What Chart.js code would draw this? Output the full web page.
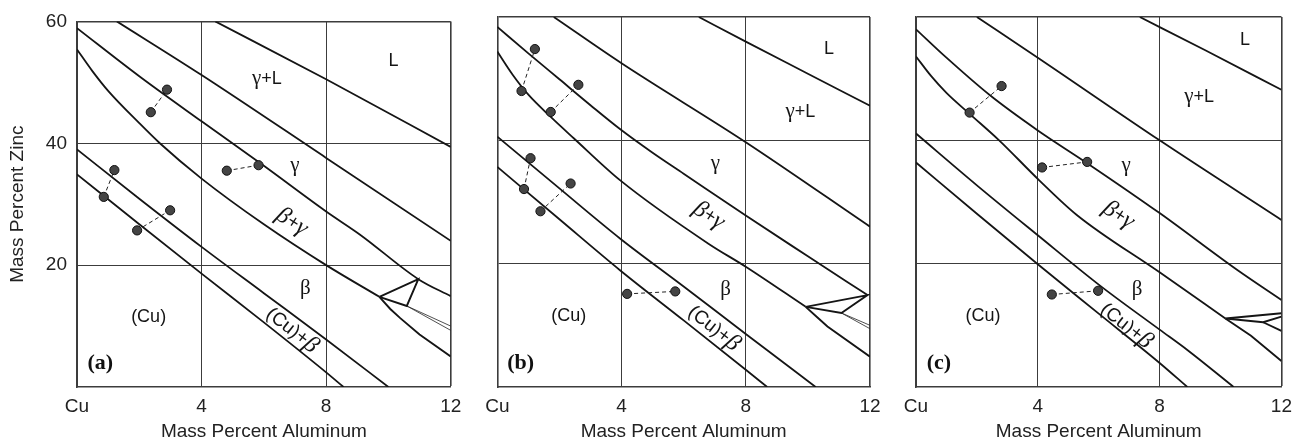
<!DOCTYPE html>
<html>
<head>
<meta charset="utf-8">
<script src="https://cdn.jsdelivr.net/npm/chart.js@4.4.1/dist/chart.umd.min.js"></script>
<style>
  html, body { margin: 0; padding: 0; background: #fff; }
  body { width: 1300px; height: 440px; position: relative; overflow: hidden; }
  canvas { position: absolute; top: 0; }
</style>
</head>
<body>
<canvas id="panelA"></canvas>
<canvas id="panelB"></canvas>
<canvas id="panelC"></canvas>
<script>
// axis ticks (shared by the three sections)
const xTicks = [0, 4, 8, 12];
const xTickLabels = ['Cu', '4', '8', '12'];
const yTicks = [20, 40, 60];
const yTickLabels = ['20', '40', '60'];

const regionNames = ['L', 'γ+L', 'γ', 'β+γ', 'β', '(Cu)', '(Cu)+β'];

// ---- section (a) ----  [wt% Al, wt% Zn]
const liquidusA = [[4.44, 60], [8, 50.5], [12, 39.4]];
const gammaLA = [[1.28, 60], [4, 51.2], [8, 37.6], [12, 24.0]];
const gammaA = [[0, 58.9], [2, 51.0], [4, 43.6], [6, 36.3], [8, 28.8], [9.09, 25.0], [10.96, 17.7], [12, 14.9]];
const betaGammaA = [[0, 55.4], [0.5, 51.8], [1, 48.6], [2, 43.3], [2.66, 40.0], [4, 34.2], [6, 26.7], [8, 20.0], [9.71, 14.8]];
const betaEdgeA = [[9.71, 14.8], [10.06, 12.8], [10.38, 11.3], [11, 8.6], [12, 5.0]];
const betaCuA = [[0, 39.0], [2, 30.9], [4, 23.0], [6, 15.4], [8, 7.8], [10.0, 0]];
const cuA = [[0, 34.9], [2, 26.7], [4, 18.6], [6, 10.6], [8, 2.4], [8.56, 0]];
const triA = [[[9.71, 14.8], [10.96, 17.7], [10.59, 13.3], [9.71, 14.8]]];
const thinA = [[[10.59, 13.3], [12, 10.0]], [[10.59, 13.3], [12, 9.3]]];
const tiesA = [
  [[2.37, 45.1], [2.89, 48.8]],
  [[4.81, 35.5], [5.83, 36.4]],
  [[0.86, 31.2], [1.2, 35.6]],
  [[1.93, 25.7], [2.99, 29.0]]
];
const labelSpotsA = [[10.16, 53.5], [6.1, 50.6], [7.0, 36.3], [6.9, 27.1], [7.33, 16.1], [2.3, 11.5], [6.9, 9.3]];

// ---- section (b) ----
const liquidusB = [[6.49, 60], [8, 56.0], [10, 50.8], [12, 45.6]];
const gammaLB = [[1.82, 60], [4, 52.5], [8, 39.7], [12, 26.0]];
const gammaB = [[0, 58.4], [1, 54.1], [2, 49.9], [3, 45.7], [3.96, 41.8], [5, 38.0], [6, 34.6], [8, 27.8], [10, 21.2], [11.92, 14.9]];
const betaGammaB = [[0, 54.4], [0.5, 50.6], [1, 47.4], [1.72, 43.8], [2.47, 40.3], [3.96, 33.5], [6.81, 23.2], [8, 19.5], [9.93, 13.0]];
const betaEdgeB = [[9.93, 13.0], [10.3, 11.3], [10.63, 9.8], [12, 4.9]];
const betaCuB = [[0, 40.6], [2, 32.2], [3.96, 24.05], [6, 16.3], [8, 8.6], [10.25, 0]];
const cuB = [[0, 35.7], [2, 27.2], [3.96, 18.9], [6, 10.8], [8, 2.8], [8.69, 0]];
const triB = [[[9.93, 13.0], [11.92, 14.9], [11.08, 12.0], [9.93, 13.0]]];
const thinB = [[[11.08, 12.0], [12, 10.0]], [[11.08, 12.0], [12, 9.45]]];
const tiesB = [
  [[0.78, 48.0], [1.21, 54.8]],
  [[1.72, 44.6], [2.61, 49.0]],
  [[0.86, 32.1], [1.07, 37.1]],
  [[1.39, 28.5], [2.36, 33.0]],
  [[4.18, 15.1], [5.73, 15.5]]
];
const labelSpotsB = [[10.68, 54.8], [9.76, 44.6], [7.02, 36.2], [6.81, 27.8], [7.35, 15.8], [2.3, 11.5], [6.97, 9.5]];

// ---- section (c) ----
const liquidusC = [[7.35, 60], [9.5, 54.6], [12, 48.2]];
const gammaLC = [[2.0, 60], [4, 53.4], [8, 40.0], [12, 27.1]];
const gammaC = [[0, 58.0], [1, 53.4], [2.43, 47.3], [4, 41.6], [5.62, 36.3], [8, 28.2], [10.54, 19.0], [12, 14.1]];
const betaGammaC = [[0, 53.6], [0.5, 50.4], [1, 47.7], [1.76, 44.3], [2.73, 40.0], [4.03, 33.6], [5.28, 27.9], [8, 18.6], [10.16, 11.1]];
const betaEdgeC = [[10.16, 11.1], [11, 8.3], [12, 4.2]];
const betaCuC = [[0, 41.1], [2, 32.7], [4, 24.6], [6, 16.6], [8, 9.3], [8.91, 6.0], [10.43, 0]];
const cuC = [[0, 36.4], [2, 28.1], [4, 19.9], [6, 11.9], [8, 3.9], [8.91, 0]];
const triC = [[[12, 11.95], [10.16, 11.1], [11.4, 10.5], [12, 11.4]], [[11.4, 10.5], [12, 9.1]]];
const thinC = [];
const tiesC = [
  [[1.76, 44.5], [2.81, 48.8]],
  [[4.14, 35.6], [5.62, 36.5]],
  [[4.46, 15.0], [5.98, 15.6]]
];
const labelSpotsC = [[10.8, 56.2], [9.3, 47.1], [6.9, 36.0], [6.65, 27.9], [7.26, 15.8], [2.2, 11.5], [6.9, 9.9]];

const tagSpot = [0.75, 3.9];
const labelAngles = [0, 0, 0, 33, 0, 0, 38];

const SANS = '"Liberation Sans", Arial, Helvetica, sans-serif';
const SERIF = '"Liberation Serif", "Times New Roman", serif';
const INK = '#151515';

const toXY = pts => pts.map(p => ({ x: p[0], y: p[1] }));

// text with greek letters set in serif, the rest in sans
function drawMixed(ctx, text, px, py, deg) {
  const italic = deg !== 0;
  const runs = [];
  for (const ch of text) {
    const greek = /[\u0370-\u03ff]/.test(ch);
    const font = greek ? (italic ? 'italic 24px ' : '21px ') + SERIF : (italic ? '19px ' : '18px ') + SANS;
    if (runs.length && runs[runs.length - 1].font === font) runs[runs.length - 1].t += ch;
    else runs.push({ t: ch, font });
  }
  let total = 0;
  runs.forEach(r => { ctx.font = r.font; r.w = ctx.measureText(r.t).width; total += r.w; });
  ctx.save();
  ctx.translate(px, py);
  ctx.rotate(deg * Math.PI / 180);
  ctx.textAlign = 'left';
  ctx.textBaseline = 'middle';
  ctx.fillStyle = INK;
  let cx = -total / 2;
  runs.forEach(r => { ctx.font = r.font; ctx.fillText(r.t, cx, 0); cx += r.w; });
  ctx.restore();
}

const regionLabels = {
  id: 'regionLabels',
  afterDatasetsDraw(chart, args, opts) {
    const { ctx, scales: { x, y } } = chart;
    opts.spots.forEach((p, i) => {
      drawMixed(ctx, regionNames[i], x.getPixelForValue(p[0]), y.getPixelForValue(p[1]), labelAngles[i]);
    });
    ctx.save();
    ctx.font = 'bold 22px ' + SERIF;
    ctx.fillStyle = '#111';
    ctx.textAlign = 'center';
    ctx.textBaseline = 'middle';
    ctx.fillText(opts.tag, x.getPixelForValue(tagSpot[0]), y.getPixelForValue(tagSpot[1]));
    ctx.restore();
  }
};

function makePanel(id, geo, curves, edgeLines, thinLines, ties, spots, tag, showY) {
  const cv = document.getElementById(id);
  cv.style.left = geo.left + 'px';
  cv.width = geo.width;
  cv.height = 440;

  const datasets = [];
  ties.forEach(pair => datasets.push({
    data: toXY(pair),
    borderColor: '#222', borderWidth: 1, borderDash: [4, 3],
    pointRadius: 4.6, pointBackgroundColor: '#444', pointBorderColor: '#111', pointBorderWidth: 1,
    tension: 0
  }));
  curves.forEach(c => datasets.push({
    data: toXY(c), borderColor: INK, borderWidth: 1.8, pointRadius: 0,
    cubicInterpolationMode: 'monotone'
  }));
  edgeLines.forEach(c => datasets.push({
    data: toXY(c), borderColor: INK, borderWidth: 1.9, pointRadius: 0, tension: 0
  }));
  thinLines.forEach(c => datasets.push({
    data: toXY(c), borderColor: '#222', borderWidth: 0.8, pointRadius: 0, tension: 0
  }));

  const gridStyle = {
    color: '#3c3c3c',
    lineWidth: ctx => (ctx.tick && (ctx.tick.value === 60 || ctx.tick.value === 12)) ? 1.6 : 1,
    drawTicks: false
  };

  return new Chart(cv, {
    type: 'line',
    data: { datasets },
    plugins: [regionLabels],
    options: {
      responsive: false,
      animation: false,
      events: [],
      layout: { padding: { top: 17, right: geo.padRight, bottom: 0, left: 0 } },
      plugins: {
        legend: { display: false },
        tooltip: { enabled: false },
        regionLabels: { spots, tag }
      },
      scales: {
        x: {
          type: 'linear', min: 0, max: 12,
          afterBuildTicks: s => { s.ticks = xTicks.map(v => ({ value: v })); },
          afterFit: s => { s.height = 53; },
          grid: gridStyle,
          border: { display: true, color: '#3c3c3c', width: 1.6 },
          ticks: {
            padding: 8, color: '#222', maxRotation: 0, autoSkip: false,
            font: { family: SANS, size: 19 },
            callback: (v, i) => xTickLabels[i]
          },
          title: {
            display: true, text: 'Mass Percent Aluminum', color: '#222',
            font: { family: SANS, size: 19, lineHeight: 0.84 },
            padding: { top: 0, bottom: 0 }
          }
        },
        y: {
          type: 'linear', min: 0, max: 60,
          afterBuildTicks: s => { s.ticks = yTicks.map(v => ({ value: v })); },
          afterFit: s => { s.width = geo.yWidth; },
          grid: gridStyle,
          border: { display: true, color: '#3c3c3c', width: 1.6 },
          ticks: {
            display: showY, padding: 10, color: '#222',
            font: { family: SANS, size: 19 },
            callback: (v, i) => yTickLabels[i]
          },
          title: {
            display: showY, text: 'Mass Percent Zinc', color: '#222',
            font: { family: SANS, size: 19, lineHeight: 1 },
            padding: { top: 8, bottom: 0 }
          }
        }
      }
    }
  });
}

makePanel('panelA', { left: 0, width: 470, yWidth: 77, padRight: 19.3 },
  [liquidusA, gammaLA, gammaA, betaGammaA, betaCuA, cuA], [betaEdgeA, ...triA], thinA, tiesA, labelSpotsA, '(a)', true);
makePanel('panelB', { left: 470, width: 420, yWidth: 27.3, padRight: 20 },
  [liquidusB, gammaLB, gammaB, betaGammaB, betaCuB, cuB], [betaEdgeB, ...triB], thinB, tiesB, labelSpotsB, '(b)', false);
makePanel('panelC', { left: 890, width: 410, yWidth: 26, padRight: 15 },
  [liquidusC, gammaLC, gammaC, betaGammaC, betaCuC, cuC], [betaEdgeC, ...triC], thinC, tiesC, labelSpotsC, '(c)', false);
</script>
</body>
</html>
